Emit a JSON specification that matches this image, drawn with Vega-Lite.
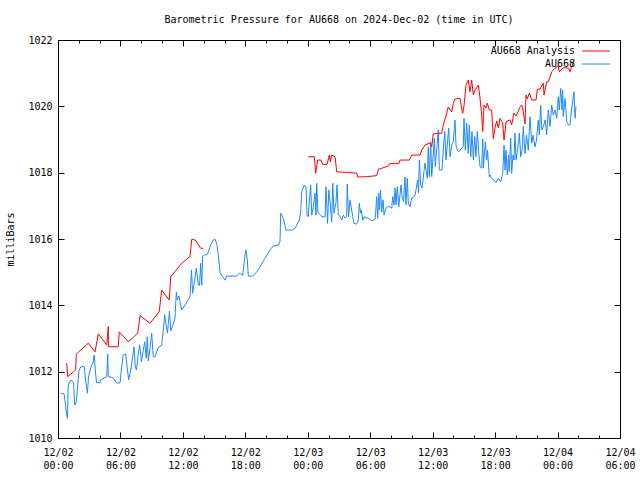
{
  "$schema": "https://vega.github.io/schema/vega-lite/v6.json",
  "width": 562,
  "height": 398,
  "autosize": "none",
  "padding": {"left": 58, "top": 40, "right": 20, "bottom": 42},
  "background": "white",
  "title": {"text": "Barometric Pressure for AU668 on 2024-Dec-02 (time in UTC)", "font": "DejaVu Sans Mono", "fontSize": 10, "fontWeight": "normal", "color": "black", "anchor": "middle", "frame": "group", "offset": 10},
  "config": {
    "view": {"stroke": "black", "strokeWidth": 1},
    "axis": {"domain": false, "grid": false, "tickColor": "black", "tickWidth": 1, "labelFont": "DejaVu Sans Mono", "labelFontSize": 10, "labelColor": "black", "titleFont": "DejaVu Sans Mono", "titleFontSize": 10, "titleFontWeight": "normal", "titleColor": "black", "labelOverlap": false, "labelFlush": false}
  },
  "data": {"values": [
    {"series":"AU668","run":1,"hour":0.26,"mbar":1011.35},
    {"series":"AU668","run":1,"hour":0.58,"mbar":1011.33},
    {"series":"AU668","run":1,"hour":0.70,"mbar":1011.05},
    {"series":"AU668","run":1,"hour":0.84,"mbar":1010.69},
    {"series":"AU668","run":1,"hour":0.91,"mbar":1010.59},
    {"series":"AU668","run":1,"hour":0.98,"mbar":1011.60},
    {"series":"AU668","run":1,"hour":1.25,"mbar":1011.75},
    {"series":"AU668","run":1,"hour":1.49,"mbar":1011.67},
    {"series":"AU668","run":1,"hour":1.61,"mbar":1010.99},
    {"series":"AU668","run":1,"hour":1.76,"mbar":1011.09},
    {"series":"AU668","run":1,"hour":2.02,"mbar":1012.05},
    {"series":"AU668","run":1,"hour":2.21,"mbar":1012.15},
    {"series":"AU668","run":1,"hour":2.53,"mbar":1012.15},
    {"series":"AU668","run":1,"hour":2.66,"mbar":1011.72},
    {"series":"AU668","run":1,"hour":2.83,"mbar":1011.35},
    {"series":"AU668","run":1,"hour":2.93,"mbar":1011.84},
    {"series":"AU668","run":1,"hour":3.22,"mbar":1012.20},
    {"series":"AU668","run":1,"hour":3.36,"mbar":1012.26},
    {"series":"AU668","run":1,"hour":3.48,"mbar":1012.50},
    {"series":"AU668","run":1,"hour":3.60,"mbar":1011.99},
    {"series":"AU668","run":1,"hour":3.70,"mbar":1011.67},
    {"series":"AU668","run":1,"hour":4.04,"mbar":1011.67},
    {"series":"AU668","run":1,"hour":4.16,"mbar":1011.77},
    {"series":"AU668","run":1,"hour":4.68,"mbar":1011.85},
    {"series":"AU668","run":1,"hour":4.78,"mbar":1012.53},
    {"series":"AU668","run":1,"hour":4.83,"mbar":1011.85},
    {"series":"AU668","run":1,"hour":5.28,"mbar":1011.82},
    {"series":"AU668","run":1,"hour":5.45,"mbar":1011.75},
    {"series":"AU668","run":1,"hour":5.62,"mbar":1011.66},
    {"series":"AU668","run":1,"hour":5.96,"mbar":1011.66},
    {"series":"AU668","run":1,"hour":6.12,"mbar":1012.15},
    {"series":"AU668","run":1,"hour":6.27,"mbar":1012.50},
    {"series":"AU668","run":1,"hour":6.50,"mbar":1012.53},
    {"series":"AU668","run":1,"hour":6.63,"mbar":1012.17},
    {"series":"AU668","run":1,"hour":6.79,"mbar":1011.75},
    {"series":"AU668","run":1,"hour":7.04,"mbar":1012.14},
    {"series":"AU668","run":1,"hour":7.30,"mbar":1012.75},
    {"series":"AU668","run":1,"hour":7.43,"mbar":1012.15},
    {"series":"AU668","run":1,"hour":7.54,"mbar":1012.05},
    {"series":"AU668","run":1,"hour":7.69,"mbar":1012.50},
    {"series":"AU668","run":1,"hour":7.85,"mbar":1012.80},
    {"series":"AU668","run":1,"hour":8.02,"mbar":1012.29},
    {"series":"AU668","run":1,"hour":8.17,"mbar":1012.60},
    {"series":"AU668","run":1,"hour":8.33,"mbar":1012.90},
    {"series":"AU668","run":1,"hour":8.48,"mbar":1012.41},
    {"series":"AU668","run":1,"hour":8.57,"mbar":1013.05},
    {"series":"AU668","run":1,"hour":8.68,"mbar":1012.32},
    {"series":"AU668","run":1,"hour":8.84,"mbar":1012.71},
    {"series":"AU668","run":1,"hour":9.00,"mbar":1013.16},
    {"series":"AU668","run":1,"hour":9.16,"mbar":1012.45},
    {"series":"AU668","run":1,"hour":9.32,"mbar":1012.45},
    {"series":"AU668","run":1,"hour":9.64,"mbar":1012.73},
    {"series":"AU668","run":1,"hour":9.96,"mbar":1012.80},
    {"series":"AU668","run":1,"hour":10.12,"mbar":1013.26},
    {"series":"AU668","run":1,"hour":10.25,"mbar":1013.71},
    {"series":"AU668","run":1,"hour":10.38,"mbar":1013.41},
    {"series":"AU668","run":1,"hour":10.52,"mbar":1013.17},
    {"series":"AU668","run":1,"hour":10.71,"mbar":1013.83},
    {"series":"AU668","run":1,"hour":10.84,"mbar":1013.23},
    {"series":"AU668","run":1,"hour":11.08,"mbar":1013.44},
    {"series":"AU668","run":1,"hour":11.24,"mbar":1013.61},
    {"series":"AU668","run":1,"hour":11.37,"mbar":1014.40},
    {"series":"AU668","run":1,"hour":11.46,"mbar":1014.16},
    {"series":"AU668","run":1,"hour":11.61,"mbar":1014.28},
    {"series":"AU668","run":1,"hour":11.89,"mbar":1013.86},
    {"series":"AU668","run":1,"hour":12.20,"mbar":1014.01},
    {"series":"AU668","run":1,"hour":12.68,"mbar":1014.26},
    {"series":"AU668","run":1,"hour":12.83,"mbar":1015.07},
    {"series":"AU668","run":1,"hour":12.93,"mbar":1014.36},
    {"series":"AU668","run":1,"hour":13.16,"mbar":1014.82},
    {"series":"AU668","run":1,"hour":13.29,"mbar":1015.12},
    {"series":"AU668","run":1,"hour":13.48,"mbar":1014.61},
    {"series":"AU668","run":1,"hour":13.60,"mbar":1014.61},
    {"series":"AU668","run":1,"hour":13.71,"mbar":1015.27},
    {"series":"AU668","run":1,"hour":13.81,"mbar":1014.61},
    {"series":"AU668","run":1,"hour":13.90,"mbar":1015.47},
    {"series":"AU668","run":1,"hour":14.06,"mbar":1015.52},
    {"series":"AU668","run":1,"hour":14.29,"mbar":1015.52},
    {"series":"AU668","run":1,"hour":14.44,"mbar":1015.61},
    {"series":"AU668","run":1,"hour":14.67,"mbar":1015.82},
    {"series":"AU668","run":1,"hour":14.92,"mbar":1015.97},
    {"series":"AU668","run":1,"hour":15.09,"mbar":1015.99},
    {"series":"AU668","run":1,"hour":15.25,"mbar":1015.87},
    {"series":"AU668","run":1,"hour":15.40,"mbar":1015.52},
    {"series":"AU668","run":1,"hour":15.57,"mbar":1015.00},
    {"series":"AU668","run":1,"hour":15.73,"mbar":1014.90},
    {"series":"AU668","run":1,"hour":16.05,"mbar":1014.76},
    {"series":"AU668","run":1,"hour":16.21,"mbar":1014.88},
    {"series":"AU668","run":1,"hour":17.17,"mbar":1014.88},
    {"series":"AU668","run":1,"hour":17.42,"mbar":1014.97},
    {"series":"AU668","run":1,"hour":17.75,"mbar":1014.91},
    {"series":"AU668","run":1,"hour":17.97,"mbar":1015.52},
    {"series":"AU668","run":1,"hour":18.06,"mbar":1015.67},
    {"series":"AU668","run":1,"hour":18.19,"mbar":1015.37},
    {"series":"AU668","run":1,"hour":18.29,"mbar":1014.88},
    {"series":"AU668","run":1,"hour":18.71,"mbar":1014.88},
    {"series":"AU668","run":1,"hour":19.09,"mbar":1015.01},
    {"series":"AU668","run":1,"hour":19.41,"mbar":1015.16},
    {"series":"AU668","run":1,"hour":19.89,"mbar":1015.42},
    {"series":"AU668","run":1,"hour":20.37,"mbar":1015.67},
    {"series":"AU668","run":1,"hour":20.69,"mbar":1015.79},
    {"series":"AU668","run":1,"hour":21.17,"mbar":1015.82},
    {"series":"AU668","run":1,"hour":21.33,"mbar":1015.92},
    {"series":"AU668","run":1,"hour":21.40,"mbar":1016.78},
    {"series":"AU668","run":1,"hour":21.65,"mbar":1016.62},
    {"series":"AU668","run":1,"hour":21.91,"mbar":1016.27},
    {"series":"AU668","run":1,"hour":22.46,"mbar":1016.27},
    {"series":"AU668","run":1,"hour":22.77,"mbar":1016.32},
    {"series":"AU668","run":1,"hour":22.94,"mbar":1016.42},
    {"series":"AU668","run":1,"hour":23.19,"mbar":1016.57},
    {"series":"AU668","run":1,"hour":23.32,"mbar":1016.82},
    {"series":"AU668","run":1,"hour":23.42,"mbar":1017.43},
    {"series":"AU668","run":1,"hour":23.64,"mbar":1017.61},
    {"series":"AU668","run":1,"hour":23.83,"mbar":1017.58},
    {"series":"AU668","run":1,"hour":23.93,"mbar":1016.72},
    {"series":"AU668","run":1,"hour":24.05,"mbar":1016.67},
    {"series":"AU668","run":1,"hour":24.16,"mbar":1017.18},
    {"series":"AU668","run":1,"hour":24.28,"mbar":1017.63},
    {"series":"AU668","run":1,"hour":24.38,"mbar":1016.72},
    {"series":"AU668","run":1,"hour":24.53,"mbar":1016.97},
    {"series":"AU668","run":1,"hour":24.70,"mbar":1017.38},
    {"series":"AU668","run":1,"hour":24.79,"mbar":1016.72},
    {"series":"AU668","run":1,"hour":24.86,"mbar":1017.68},
    {"series":"AU668","run":1,"hour":24.98,"mbar":1016.80},
    {"series":"AU668","run":1,"hour":25.24,"mbar":1016.72},
    {"series":"AU668","run":1,"hour":25.34,"mbar":1016.67},
    {"series":"AU668","run":1,"hour":25.66,"mbar":1016.67},
    {"series":"AU668","run":1,"hour":25.75,"mbar":1017.58},
    {"series":"AU668","run":1,"hour":25.90,"mbar":1016.47},
    {"series":"AU668","run":1,"hour":26.02,"mbar":1017.48},
    {"series":"AU668","run":1,"hour":26.20,"mbar":1016.93},
    {"series":"AU668","run":1,"hour":26.30,"mbar":1016.51},
    {"series":"AU668","run":1,"hour":26.40,"mbar":1017.68},
    {"series":"AU668","run":1,"hour":26.52,"mbar":1016.78},
    {"series":"AU668","run":1,"hour":26.71,"mbar":1017.10},
    {"series":"AU668","run":1,"hour":26.81,"mbar":1017.63},
    {"series":"AU668","run":1,"hour":26.93,"mbar":1016.75},
    {"series":"AU668","run":1,"hour":27.10,"mbar":1016.67},
    {"series":"AU668","run":1,"hour":27.26,"mbar":1016.57},
    {"series":"AU668","run":1,"hour":27.41,"mbar":1016.72},
    {"series":"AU668","run":1,"hour":27.58,"mbar":1016.63},
    {"series":"AU668","run":1,"hour":27.74,"mbar":1016.67},
    {"series":"AU668","run":1,"hour":27.79,"mbar":1017.66},
    {"series":"AU668","run":1,"hour":27.92,"mbar":1016.67},
    {"series":"AU668","run":1,"hour":28.06,"mbar":1017.18},
    {"series":"AU668","run":1,"hour":28.32,"mbar":1016.67},
    {"series":"AU668","run":1,"hour":28.44,"mbar":1016.47},
    {"series":"AU668","run":1,"hour":28.70,"mbar":1016.45},
    {"series":"AU668","run":1,"hour":28.86,"mbar":1016.57},
    {"series":"AU668","run":1,"hour":28.95,"mbar":1017.08},
    {"series":"AU668","run":1,"hour":29.07,"mbar":1016.78},
    {"series":"AU668","run":1,"hour":29.14,"mbar":1016.87},
    {"series":"AU668","run":1,"hour":29.28,"mbar":1016.57},
    {"series":"AU668","run":1,"hour":29.40,"mbar":1016.67},
    {"series":"AU668","run":1,"hour":29.82,"mbar":1016.62},
    {"series":"AU668","run":1,"hour":30.14,"mbar":1016.55},
    {"series":"AU668","run":1,"hour":30.36,"mbar":1016.57},
    {"series":"AU668","run":1,"hour":30.49,"mbar":1016.62},
    {"series":"AU668","run":1,"hour":30.62,"mbar":1017.28},
    {"series":"AU668","run":1,"hour":30.72,"mbar":1016.62},
    {"series":"AU668","run":1,"hour":30.82,"mbar":1017.38},
    {"series":"AU668","run":1,"hour":30.89,"mbar":1016.87},
    {"series":"AU668","run":1,"hour":30.99,"mbar":1017.48},
    {"series":"AU668","run":1,"hour":31.10,"mbar":1016.81},
    {"series":"AU668","run":1,"hour":31.23,"mbar":1017.18},
    {"series":"AU668","run":1,"hour":31.33,"mbar":1016.72},
    {"series":"AU668","run":1,"hour":31.52,"mbar":1016.93},
    {"series":"AU668","run":1,"hour":31.64,"mbar":1016.97},
    {"series":"AU668","run":1,"hour":31.90,"mbar":1016.97},
    {"series":"AU668","run":1,"hour":32.07,"mbar":1016.93},
    {"series":"AU668","run":1,"hour":32.16,"mbar":1017.28},
    {"series":"AU668","run":1,"hour":32.29,"mbar":1017.03},
    {"series":"AU668","run":1,"hour":32.38,"mbar":1017.54},
    {"series":"AU668","run":1,"hour":32.48,"mbar":1017.03},
    {"series":"AU668","run":1,"hour":32.60,"mbar":1017.58},
    {"series":"AU668","run":1,"hour":32.74,"mbar":1016.97},
    {"series":"AU668","run":1,"hour":32.96,"mbar":1017.63},
    {"series":"AU668","run":1,"hour":33.08,"mbar":1017.23},
    {"series":"AU668","run":1,"hour":33.20,"mbar":1017.13},
    {"series":"AU668","run":1,"hour":33.34,"mbar":1017.87},
    {"series":"AU668","run":1,"hour":33.44,"mbar":1017.03},
    {"series":"AU668","run":1,"hour":33.56,"mbar":1017.83},
    {"series":"AU668","run":1,"hour":33.66,"mbar":1017.08},
    {"series":"AU668","run":1,"hour":33.82,"mbar":1016.97},
    {"series":"AU668","run":1,"hour":33.99,"mbar":1017.23},
    {"series":"AU668","run":1,"hour":34.30,"mbar":1017.30},
    {"series":"AU668","run":1,"hour":34.56,"mbar":1017.78},
    {"series":"AU668","run":1,"hour":34.64,"mbar":1017.39},
    {"series":"AU668","run":1,"hour":34.72,"mbar":1018.38},
    {"series":"AU668","run":1,"hour":34.85,"mbar":1017.63},
    {"series":"AU668","run":1,"hour":34.98,"mbar":1017.54},
    {"series":"AU668","run":1,"hour":35.26,"mbar":1018.29},
    {"series":"AU668","run":1,"hour":35.49,"mbar":1017.83},
    {"series":"AU668","run":1,"hour":35.58,"mbar":1018.78},
    {"series":"AU668","run":1,"hour":35.68,"mbar":1017.88},
    {"series":"AU668","run":1,"hour":35.81,"mbar":1018.93},
    {"series":"AU668","run":1,"hour":35.91,"mbar":1017.88},
    {"series":"AU668","run":1,"hour":36.16,"mbar":1019.04},
    {"series":"AU668","run":1,"hour":36.25,"mbar":1018.18},
    {"series":"AU668","run":1,"hour":36.54,"mbar":1019.29},
    {"series":"AU668","run":1,"hour":36.64,"mbar":1018.08},
    {"series":"AU668","run":1,"hour":36.90,"mbar":1018.08},
    {"series":"AU668","run":1,"hour":37.02,"mbar":1018.68},
    {"series":"AU668","run":1,"hour":37.16,"mbar":1019.24},
    {"series":"AU668","run":1,"hour":37.28,"mbar":1018.38},
    {"series":"AU668","run":1,"hour":37.54,"mbar":1019.34},
    {"series":"AU668","run":1,"hour":37.67,"mbar":1018.48},
    {"series":"AU668","run":1,"hour":37.83,"mbar":1018.83},
    {"series":"AU668","run":1,"hour":37.98,"mbar":1018.93},
    {"series":"AU668","run":1,"hour":38.15,"mbar":1019.59},
    {"series":"AU668","run":1,"hour":38.24,"mbar":1018.83},
    {"series":"AU668","run":1,"hour":38.37,"mbar":1018.68},
    {"series":"AU668","run":1,"hour":38.50,"mbar":1018.63},
    {"series":"AU668","run":1,"hour":38.63,"mbar":1018.68},
    {"series":"AU668","run":1,"hour":38.94,"mbar":1018.78},
    {"series":"AU668","run":1,"hour":39.01,"mbar":1019.64},
    {"series":"AU668","run":1,"hour":39.14,"mbar":1018.68},
    {"series":"AU668","run":1,"hour":39.27,"mbar":1019.49},
    {"series":"AU668","run":1,"hour":39.42,"mbar":1018.58},
    {"series":"AU668","run":1,"hour":39.52,"mbar":1019.44},
    {"series":"AU668","run":1,"hour":39.66,"mbar":1018.48},
    {"series":"AU668","run":1,"hour":39.78,"mbar":1019.24},
    {"series":"AU668","run":1,"hour":39.91,"mbar":1018.38},
    {"series":"AU668","run":1,"hour":40.04,"mbar":1019.09},
    {"series":"AU668","run":1,"hour":40.16,"mbar":1018.48},
    {"series":"AU668","run":1,"hour":40.29,"mbar":1019.24},
    {"series":"AU668","run":1,"hour":40.41,"mbar":1018.68},
    {"series":"AU668","run":1,"hour":40.55,"mbar":1018.18},
    {"series":"AU668","run":1,"hour":40.71,"mbar":1018.13},
    {"series":"AU668","run":1,"hour":40.81,"mbar":1019.02},
    {"series":"AU668","run":1,"hour":40.88,"mbar":1018.14},
    {"series":"AU668","run":1,"hour":41.06,"mbar":1018.93},
    {"series":"AU668","run":1,"hour":41.19,"mbar":1018.38},
    {"series":"AU668","run":1,"hour":41.27,"mbar":1018.68},
    {"series":"AU668","run":1,"hour":41.44,"mbar":1017.88},
    {"series":"AU668","run":1,"hour":41.51,"mbar":1017.93},
    {"series":"AU668","run":1,"hour":41.67,"mbar":1017.83},
    {"series":"AU668","run":1,"hour":41.89,"mbar":1017.78},
    {"series":"AU668","run":1,"hour":42.09,"mbar":1017.70},
    {"series":"AU668","run":1,"hour":42.31,"mbar":1017.83},
    {"series":"AU668","run":1,"hour":42.54,"mbar":1017.73},
    {"series":"AU668","run":1,"hour":42.73,"mbar":1017.98},
    {"series":"AU668","run":1,"hour":42.86,"mbar":1018.83},
    {"series":"AU668","run":1,"hour":42.95,"mbar":1018.08},
    {"series":"AU668","run":1,"hour":43.05,"mbar":1018.68},
    {"series":"AU668","run":1,"hour":43.17,"mbar":1017.93},
    {"series":"AU668","run":1,"hour":43.29,"mbar":1018.53},
    {"series":"AU668","run":1,"hour":43.36,"mbar":1018.03},
    {"series":"AU668","run":1,"hour":43.50,"mbar":1019.04},
    {"series":"AU668","run":1,"hour":43.59,"mbar":1017.98},
    {"series":"AU668","run":1,"hour":43.72,"mbar":1018.53},
    {"series":"AU668","run":1,"hour":43.81,"mbar":1018.38},
    {"series":"AU668","run":1,"hour":43.91,"mbar":1019.19},
    {"series":"AU668","run":1,"hour":44.01,"mbar":1018.38},
    {"series":"AU668","run":1,"hour":44.15,"mbar":1018.68},
    {"series":"AU668","run":1,"hour":44.33,"mbar":1019.19},
    {"series":"AU668","run":1,"hour":44.46,"mbar":1018.48},
    {"series":"AU668","run":1,"hour":44.59,"mbar":1018.68},
    {"series":"AU668","run":1,"hour":44.71,"mbar":1019.39},
    {"series":"AU668","run":1,"hour":44.87,"mbar":1018.58},
    {"series":"AU668","run":1,"hour":45.02,"mbar":1019.13},
    {"series":"AU668","run":1,"hour":45.19,"mbar":1018.68},
    {"series":"AU668","run":1,"hour":45.35,"mbar":1019.69},
    {"series":"AU668","run":1,"hour":45.52,"mbar":1018.89},
    {"series":"AU668","run":1,"hour":45.64,"mbar":1019.13},
    {"series":"AU668","run":1,"hour":45.83,"mbar":1018.78},
    {"series":"AU668","run":1,"hour":45.98,"mbar":1018.98},
    {"series":"AU668","run":1,"hour":46.15,"mbar":1019.59},
    {"series":"AU668","run":1,"hour":46.25,"mbar":1019.14},
    {"series":"AU668","run":1,"hour":46.38,"mbar":1020.04},
    {"series":"AU668","run":1,"hour":46.48,"mbar":1019.29},
    {"series":"AU668","run":1,"hour":46.63,"mbar":1019.38},
    {"series":"AU668","run":1,"hour":46.80,"mbar":1019.59},
    {"series":"AU668","run":1,"hour":46.96,"mbar":1019.14},
    {"series":"AU668","run":1,"hour":47.11,"mbar":1019.89},
    {"series":"AU668","run":1,"hour":47.28,"mbar":1019.39},
    {"series":"AU668","run":1,"hour":47.44,"mbar":1020.04},
    {"series":"AU668","run":1,"hour":47.59,"mbar":1019.74},
    {"series":"AU668","run":1,"hour":47.76,"mbar":1019.89},
    {"series":"AU668","run":1,"hour":47.92,"mbar":1019.64},
    {"series":"AU668","run":1,"hour":48.07,"mbar":1020.29},
    {"series":"AU668","run":1,"hour":48.17,"mbar":1019.89},
    {"series":"AU668","run":1,"hour":48.30,"mbar":1020.54},
    {"series":"AU668","run":1,"hour":48.43,"mbar":1019.89},
    {"series":"AU668","run":1,"hour":48.49,"mbar":1020.49},
    {"series":"AU668","run":1,"hour":48.55,"mbar":1019.69},
    {"series":"AU668","run":1,"hour":48.72,"mbar":1020.24},
    {"series":"AU668","run":1,"hour":48.88,"mbar":1019.54},
    {"series":"AU668","run":1,"hour":49.04,"mbar":1019.44},
    {"series":"AU668","run":1,"hour":49.20,"mbar":1019.44},
    {"series":"AU668","run":1,"hour":49.34,"mbar":1019.89},
    {"series":"AU668","run":1,"hour":49.58,"mbar":1020.44},
    {"series":"AU668","run":1,"hour":49.68,"mbar":1019.64},
    {"series":"AU668","run":1,"hour":49.77,"mbar":1019.99},
    {"series":"AU668 Analysis","run":1,"hour":0.84,"mbar":1012.26},
    {"series":"AU668 Analysis","run":1,"hour":0.93,"mbar":1011.85},
    {"series":"AU668 Analysis","run":1,"hour":1.70,"mbar":1012.05},
    {"series":"AU668 Analysis","run":1,"hour":1.76,"mbar":1012.53},
    {"series":"AU668 Analysis","run":1,"hour":2.91,"mbar":1012.86},
    {"series":"AU668 Analysis","run":1,"hour":3.56,"mbar":1012.60},
    {"series":"AU668 Analysis","run":1,"hour":3.87,"mbar":1013.14},
    {"series":"AU668 Analysis","run":1,"hour":4.68,"mbar":1012.80},
    {"series":"AU668 Analysis","run":1,"hour":4.83,"mbar":1013.36},
    {"series":"AU668 Analysis","run":1,"hour":4.85,"mbar":1012.75},
    {"series":"AU668 Analysis","run":1,"hour":5.79,"mbar":1012.75},
    {"series":"AU668 Analysis","run":1,"hour":5.89,"mbar":1013.20},
    {"series":"AU668 Analysis","run":1,"hour":6.76,"mbar":1012.90},
    {"series":"AU668 Analysis","run":1,"hour":7.66,"mbar":1013.16},
    {"series":"AU668 Analysis","run":1,"hour":7.88,"mbar":1013.69},
    {"series":"AU668 Analysis","run":1,"hour":8.84,"mbar":1013.46},
    {"series":"AU668 Analysis","run":1,"hour":9.73,"mbar":1013.81},
    {"series":"AU668 Analysis","run":1,"hour":9.96,"mbar":1014.46},
    {"series":"AU668 Analysis","run":1,"hour":10.69,"mbar":1014.16},
    {"series":"AU668 Analysis","run":1,"hour":10.83,"mbar":1014.86},
    {"series":"AU668 Analysis","run":1,"hour":11.89,"mbar":1015.27},
    {"series":"AU668 Analysis","run":1,"hour":12.68,"mbar":1015.47},
    {"series":"AU668 Analysis","run":1,"hour":12.85,"mbar":1015.99},
    {"series":"AU668 Analysis","run":1,"hour":13.17,"mbar":1015.97},
    {"series":"AU668 Analysis","run":1,"hour":13.71,"mbar":1015.72},
    {"series":"AU668 Analysis","run":1,"hour":13.96,"mbar":1015.72},
    {"series":"AU668 Analysis","run":2,"hour":24.05,"mbar":1018.48},
    {"series":"AU668 Analysis","run":2,"hour":24.63,"mbar":1018.48},
    {"series":"AU668 Analysis","run":2,"hour":24.76,"mbar":1017.98},
    {"series":"AU668 Analysis","run":2,"hour":24.95,"mbar":1018.38},
    {"series":"AU668 Analysis","run":2,"hour":25.27,"mbar":1018.38},
    {"series":"AU668 Analysis","run":2,"hour":25.43,"mbar":1018.25},
    {"series":"AU668 Analysis","run":2,"hour":25.85,"mbar":1018.25},
    {"series":"AU668 Analysis","run":2,"hour":26.07,"mbar":1018.53},
    {"series":"AU668 Analysis","run":2,"hour":26.17,"mbar":1018.32},
    {"series":"AU668 Analysis","run":2,"hour":26.28,"mbar":1018.53},
    {"series":"AU668 Analysis","run":2,"hour":26.62,"mbar":1018.48},
    {"series":"AU668 Analysis","run":2,"hour":26.78,"mbar":1018.03},
    {"series":"AU668 Analysis","run":2,"hour":27.74,"mbar":1018.00},
    {"series":"AU668 Analysis","run":2,"hour":28.70,"mbar":1017.99},
    {"series":"AU668 Analysis","run":2,"hour":28.80,"mbar":1017.87},
    {"series":"AU668 Analysis","run":2,"hour":29.66,"mbar":1017.88},
    {"series":"AU668 Analysis","run":2,"hour":30.62,"mbar":1017.91},
    {"series":"AU668 Analysis","run":2,"hour":30.78,"mbar":1018.10},
    {"series":"AU668 Analysis","run":2,"hour":31.74,"mbar":1018.20},
    {"series":"AU668 Analysis","run":2,"hour":31.90,"mbar":1018.28},
    {"series":"AU668 Analysis","run":2,"hour":32.77,"mbar":1018.28},
    {"series":"AU668 Analysis","run":2,"hour":32.86,"mbar":1018.38},
    {"series":"AU668 Analysis","run":2,"hour":33.76,"mbar":1018.38},
    {"series":"AU668 Analysis","run":2,"hour":33.99,"mbar":1018.53},
    {"series":"AU668 Analysis","run":2,"hour":34.78,"mbar":1018.53},
    {"series":"AU668 Analysis","run":2,"hour":34.95,"mbar":1018.68},
    {"series":"AU668 Analysis","run":2,"hour":35.26,"mbar":1018.83},
    {"series":"AU668 Analysis","run":2,"hour":35.75,"mbar":1018.90},
    {"series":"AU668 Analysis","run":2,"hour":35.91,"mbar":1018.78},
    {"series":"AU668 Analysis","run":2,"hour":36.06,"mbar":1019.17},
    {"series":"AU668 Analysis","run":2,"hour":36.87,"mbar":1019.19},
    {"series":"AU668 Analysis","run":2,"hour":37.02,"mbar":1019.44},
    {"series":"AU668 Analysis","run":2,"hour":37.28,"mbar":1019.71},
    {"series":"AU668 Analysis","run":2,"hour":37.50,"mbar":1019.98},
    {"series":"AU668 Analysis","run":2,"hour":37.83,"mbar":1019.83},
    {"series":"AU668 Analysis","run":2,"hour":37.98,"mbar":1020.09},
    {"series":"AU668 Analysis","run":2,"hour":38.15,"mbar":1020.22},
    {"series":"AU668 Analysis","run":2,"hour":38.63,"mbar":1020.24},
    {"series":"AU668 Analysis","run":2,"hour":38.79,"mbar":1019.92},
    {"series":"AU668 Analysis","run":2,"hour":38.89,"mbar":1019.79},
    {"series":"AU668 Analysis","run":2,"hour":39.01,"mbar":1020.01},
    {"series":"AU668 Analysis","run":2,"hour":39.20,"mbar":1020.64},
    {"series":"AU668 Analysis","run":2,"hour":39.42,"mbar":1020.79},
    {"series":"AU668 Analysis","run":2,"hour":39.59,"mbar":1020.44},
    {"series":"AU668 Analysis","run":2,"hour":39.75,"mbar":1020.79},
    {"series":"AU668 Analysis","run":2,"hour":39.91,"mbar":1020.34},
    {"series":"AU668 Analysis","run":2,"hour":40.07,"mbar":1020.49},
    {"series":"AU668 Analysis","run":2,"hour":40.39,"mbar":1020.64},
    {"series":"AU668 Analysis","run":2,"hour":40.55,"mbar":1020.25},
    {"series":"AU668 Analysis","run":2,"hour":40.71,"mbar":1019.74},
    {"series":"AU668 Analysis","run":2,"hour":40.81,"mbar":1019.24},
    {"series":"AU668 Analysis","run":2,"hour":40.93,"mbar":1020.04},
    {"series":"AU668 Analysis","run":2,"hour":41.13,"mbar":1019.95},
    {"series":"AU668 Analysis","run":2,"hour":41.25,"mbar":1020.10},
    {"series":"AU668 Analysis","run":2,"hour":41.44,"mbar":1019.89},
    {"series":"AU668 Analysis","run":2,"hour":41.67,"mbar":1019.89},
    {"series":"AU668 Analysis","run":2,"hour":41.83,"mbar":1019.02},
    {"series":"AU668 Analysis","run":2,"hour":41.99,"mbar":1019.35},
    {"series":"AU668 Analysis","run":2,"hour":42.15,"mbar":1019.56},
    {"series":"AU668 Analysis","run":2,"hour":42.31,"mbar":1019.35},
    {"series":"AU668 Analysis","run":2,"hour":42.47,"mbar":1019.64},
    {"series":"AU668 Analysis","run":2,"hour":42.73,"mbar":1019.50},
    {"series":"AU668 Analysis","run":2,"hour":42.86,"mbar":1018.98},
    {"series":"AU668 Analysis","run":2,"hour":43.05,"mbar":1019.54},
    {"series":"AU668 Analysis","run":2,"hour":43.43,"mbar":1019.59},
    {"series":"AU668 Analysis","run":2,"hour":43.59,"mbar":1019.44},
    {"series":"AU668 Analysis","run":2,"hour":43.81,"mbar":1019.80},
    {"series":"AU668 Analysis","run":2,"hour":44.01,"mbar":1019.71},
    {"series":"AU668 Analysis","run":2,"hour":44.23,"mbar":1019.86},
    {"series":"AU668 Analysis","run":2,"hour":44.39,"mbar":1019.98},
    {"series":"AU668 Analysis","run":2,"hour":44.56,"mbar":1020.04},
    {"series":"AU668 Analysis","run":2,"hour":44.68,"mbar":1019.89},
    {"series":"AU668 Analysis","run":2,"hour":44.87,"mbar":1019.47},
    {"series":"AU668 Analysis","run":2,"hour":44.97,"mbar":1020.34},
    {"series":"AU668 Analysis","run":2,"hour":45.09,"mbar":1020.22},
    {"series":"AU668 Analysis","run":2,"hour":45.29,"mbar":1020.40},
    {"series":"AU668 Analysis","run":2,"hour":45.52,"mbar":1020.19},
    {"series":"AU668 Analysis","run":2,"hour":45.93,"mbar":1020.19},
    {"series":"AU668 Analysis","run":2,"hour":46.06,"mbar":1020.52},
    {"series":"AU668 Analysis","run":2,"hour":46.32,"mbar":1020.52},
    {"series":"AU668 Analysis","run":2,"hour":46.63,"mbar":1020.70},
    {"series":"AU668 Analysis","run":2,"hour":46.70,"mbar":1020.34},
    {"series":"AU668 Analysis","run":2,"hour":46.96,"mbar":1020.74},
    {"series":"AU668 Analysis","run":2,"hour":47.11,"mbar":1020.74},
    {"series":"AU668 Analysis","run":2,"hour":47.28,"mbar":1020.89},
    {"series":"AU668 Analysis","run":2,"hour":47.44,"mbar":1021.04},
    {"series":"AU668 Analysis","run":2,"hour":47.76,"mbar":1021.15},
    {"series":"AU668 Analysis","run":2,"hour":48.07,"mbar":1021.22},
    {"series":"AU668 Analysis","run":2,"hour":48.17,"mbar":1021.04},
    {"series":"AU668 Analysis","run":2,"hour":48.53,"mbar":1021.16},
    {"series":"AU668 Analysis","run":2,"hour":48.81,"mbar":1021.16},
    {"series":"AU668 Analysis","run":2,"hour":49.04,"mbar":1021.15},
    {"series":"AU668 Analysis","run":2,"hour":49.20,"mbar":1021.04},
    {"series":"AU668 Analysis","run":2,"hour":49.36,"mbar":1021.19},
    {"series":"AU668 Analysis","run":2,"hour":49.58,"mbar":1021.40}
  ]},
  "layer": [
    {
      "transform": [{"filter": "datum.series === 'AU668'"}],
      "mark": {"type": "line", "strokeWidth": 1, "strokeCap": "butt", "strokeJoin": "miter"},
      "encoding": {
        "x": {"field": "hour", "type": "quantitative", "scale": {"domain": [0, 54], "nice": false, "zero": false},
          "axis": {"orient": "bottom", "title": null, "values": [0,2,4,6,8,10,12,14,16,18,20,22,24,26,28,30,32,34,36,38,40,42,44,46,48,50,52,54],
            "tickSize": {"condition": {"test": "datum.value % 6 === 0", "value": -6}, "value": -3},
            "labelPadding": 15, "labelBaseline": "top", "labelLineHeight": 13,
            "labelExpr": "datum.value % 6 === 0 ? [datum.value < 24 ? '12/02' : (datum.value < 48 ? '12/03' : '12/04'), (datum.value % 24 < 10 ? '0' : '') + (datum.value % 24) + ':00'] : ''"}},
        "y": {"field": "mbar", "type": "quantitative", "scale": {"domain": [1010, 1022], "nice": false, "zero": false},
          "axis": {"orient": "left", "values": [1010,1012,1014,1016,1018,1020,1022], "format": "d", "tickSize": -6, "labelPadding": 12, "title": "milliBars", "titleX": -48, "titleY": 199, "titleAngle": 270, "titleAlign": "center", "titleBaseline": "middle"}},
        "color": {"field": "series", "type": "nominal", "scale": {"domain": ["AU668 Analysis", "AU668"], "range": ["#ff0000", "#1e88ff"]},
          "legend": {"title": null, "orient": "none", "legendX": 531, "legendY": 4, "symbolType": "M-2.15,0H2.15", "symbolSize": 169, "symbolStrokeWidth": 1, "symbolFillColor": "transparent", "labelAlign": "right", "labelOffset": -28, "labelFont": "DejaVu Sans Mono", "labelFontSize": 10, "labelColor": "black", "rowPadding": 1, "padding": 0}},
        "detail": {"field": "run", "type": "nominal"}
      }
    },
    {
      "transform": [{"filter": "datum.series === 'AU668 Analysis'"}],
      "mark": {"type": "line", "strokeWidth": 1, "strokeCap": "butt", "strokeJoin": "miter"},
      "encoding": {
        "x": {"field": "hour", "type": "quantitative",
          "axis": {"orient": "top", "title": null, "labels": false, "values": [0,2,4,6,8,10,12,14,16,18,20,22,24,26,28,30,32,34,36,38,40,42,44,46,48,50,52,54],
            "tickSize": {"condition": {"test": "datum.value % 6 === 0", "value": -6}, "value": -3}}},
        "y": {"field": "mbar", "type": "quantitative",
          "axis": {"orient": "right", "title": null, "labels": false, "values": [1010,1012,1014,1016,1018,1020,1022], "tickSize": -6}},
        "color": {"field": "series", "type": "nominal"},
        "detail": {"field": "run", "type": "nominal"}
      }
    }
  ],
  "resolve": {"axis": {"x": "independent", "y": "independent"}}
}
